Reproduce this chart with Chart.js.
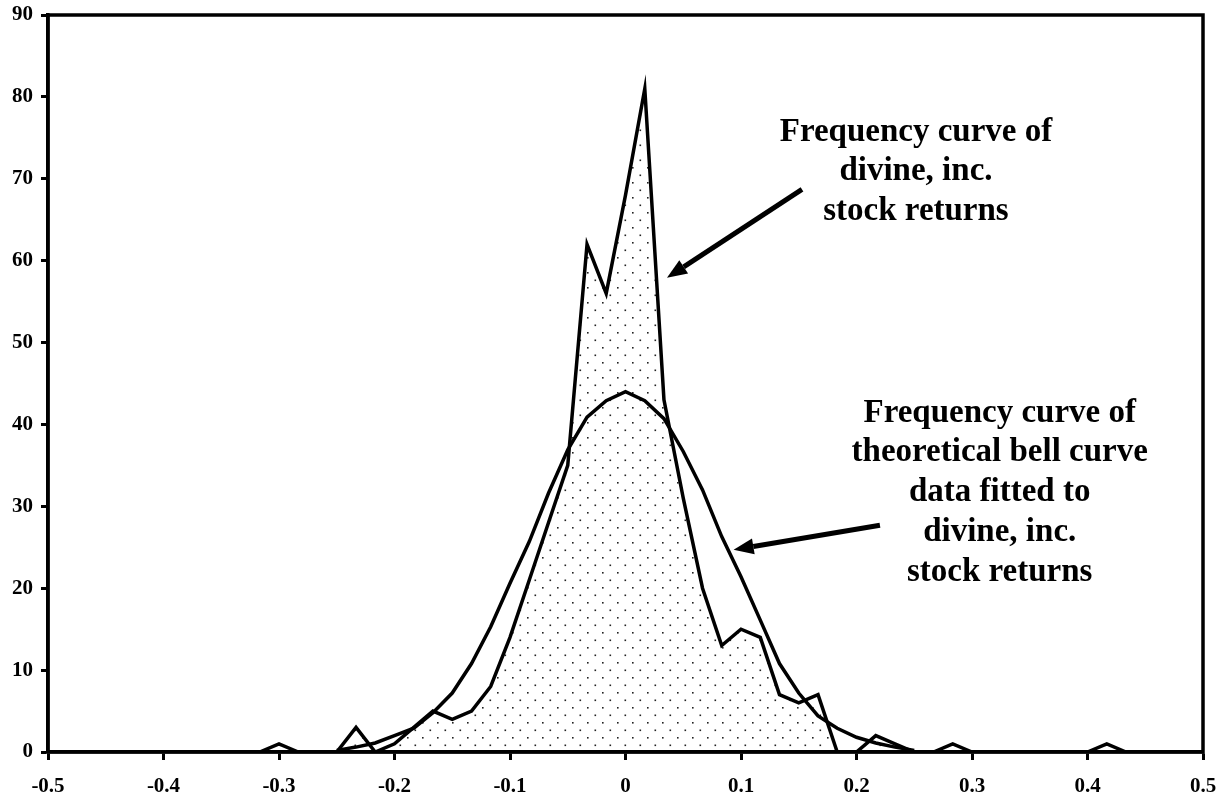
<!DOCTYPE html>
<html>
<head>
<meta charset="utf-8">
<script src="https://cdn.jsdelivr.net/npm/chart.js@4.4.1/dist/chart.umd.min.js"></script>
<style>
  html, body { margin: 0; padding: 0; background: #fff; }
  #wrap { width: 1226px; height: 797px; }
</style>
</head>
<body>
<div id="wrap"><canvas id="chart" width="1226" height="797"></canvas></div>
<script>
// bin centres (width 1/60)
const bins = [-0.5, -0.4833, -0.4667, -0.45, -0.4333, -0.4167, -0.4, -0.3833, -0.3667, -0.35,
  -0.3333, -0.3167, -0.3, -0.2833, -0.2667, -0.25, -0.2333, -0.2167, -0.2, -0.1833,
  -0.1667, -0.15, -0.1333, -0.1167, -0.1, -0.0833, -0.0667, -0.05, -0.0333, -0.0167,
  0, 0.0167, 0.0333, 0.05, 0.0667, 0.0833, 0.1, 0.1167, 0.1333, 0.15,
  0.1667, 0.1833, 0.2, 0.2167, 0.2333, 0.25, 0.2667, 0.2833, 0.3, 0.3167,
  0.3333, 0.35, 0.3667, 0.3833, 0.4, 0.4167, 0.4333, 0.45, 0.4667, 0.4833, 0.5];

// observed frequency of returns
const stockFreq = [0, 0, 0, 0, 0, 0, 0, 0, 0, 0,
  0, 0, 1, 0, 0, 0, 3, 0, 1, 3,
  5, 4, 5, 8, 14, 21, 28, 35, 62, 56,
  68, 81, 43, 31, 20, 13, 15, 14, 7, 6,
  7, 0, 0, 2, 1, 0, 0, 1, 0, 0,
  0, 0, 0, 0, 0, 1, 0, 0, 0, 0, 0];

// fitted bell curve
const bellFreq = [null, null, null, null, null, null, null, null, null, null,
  null, null, null, null, null, 0.2, 0.6, 1.1, 2.0, 2.9,
  4.8, 7.2, 10.8, 15.3, 20.6, 25.7, 31.6, 36.9, 40.9, 42.9,
  44, 42.9, 40.7, 36.7, 32.0, 26.3, 21.4, 16.1, 10.8, 7.2,
  4.4, 2.9, 1.8, 1.1, 0.6, 0.2, null, null, null, null,
  null, null, null, null, null, null, null, null, null, null, null];

const xTickLabels = ['-0.5', '-0.4', '-0.3', '-0.2', '-0.1', '0', '0.1', '0.2', '0.3', '0.4', '0.5'];
const yTickLabels = ['0', '10', '20', '30', '40', '50', '60', '70', '80', '90'];

const note1 = ['Frequency curve of', 'divine, inc.', 'stock returns'];
const note2 = ['Frequency curve of', 'theoretical bell curve', 'data fitted to', 'divine, inc.', 'stock returns'];

const FONT = '"Liberation Serif", "Times New Roman", serif';

// dotted fill
function dotPattern() {
  const c = document.createElement('canvas');
  c.width = 15; c.height = 15;
  const g = c.getContext('2d');
  g.fillStyle = '#222';
  g.fillRect(2, 2, 1.6, 1.6);
  g.fillRect(9.5, 9.5, 1.6, 1.6);
  return g.createPattern(c, 'repeat');
}

function arrow(ctx, x1, y1, x2, y2) {
  const a = Math.atan2(y2 - y1, x2 - x1);
  const len = 20, hw = 8;
  const bx = x2 - len * Math.cos(a), by = y2 - len * Math.sin(a);
  ctx.beginPath();
  ctx.moveTo(x1, y1);
  ctx.lineTo(bx, by);
  ctx.lineWidth = 5;
  ctx.strokeStyle = '#000';
  ctx.stroke();
  ctx.beginPath();
  ctx.moveTo(x2, y2);
  ctx.lineTo(bx + hw * Math.sin(a), by - hw * Math.cos(a));
  ctx.lineTo(bx - hw * Math.sin(a), by + hw * Math.cos(a));
  ctx.closePath();
  ctx.fillStyle = '#000';
  ctx.fill();
}

const extras = {
  id: 'extras',
  afterDraw(chart) {
    const { ctx, chartArea: a, scales: { x, y } } = chart;
    ctx.save();
    // box around plot
    ctx.lineWidth = 3.5;
    ctx.strokeStyle = '#000';
    ctx.strokeRect(a.left, a.top, a.right - a.left, a.bottom - a.top);

    ctx.font = 'bold 33px ' + FONT;
    ctx.fillStyle = '#000';
    ctx.textAlign = 'center';
    ctx.textBaseline = 'middle';
    note1.forEach((t, i) => ctx.fillText(t, x.getPixelForValue(0.2515), y.getPixelForValue(75.7 - i * 4.85)));
    note2.forEach((t, i) => ctx.fillText(t, x.getPixelForValue(0.324), y.getPixelForValue(41.4 - i * 4.88)));

    arrow(ctx, x.getPixelForValue(0.1528), y.getPixelForValue(68.7), x.getPixelForValue(0.0359), y.getPixelForValue(57.9));
    arrow(ctx, x.getPixelForValue(0.2203), y.getPixelForValue(27.7), x.getPixelForValue(0.0936), y.getPixelForValue(24.7));
    ctx.restore();
  }
};

new Chart(document.getElementById('chart').getContext('2d'), {
  type: 'line',
  data: {
    datasets: [
      {
        label: 'Theoretical bell curve',
        data: bins.map((b, i) => ({ x: b, y: bellFreq[i] })),
        borderColor: '#000',
        borderWidth: 3.5,
        pointRadius: 0,
        tension: 0,
        fill: false,
        spanGaps: false
      },
      {
        label: 'divine, inc. stock returns',
        data: bins.map((b, i) => ({ x: b, y: stockFreq[i] })),
        borderColor: '#000',
        borderWidth: 3.5,
        borderJoinStyle: 'miter',
        pointRadius: 0,
        tension: 0,
        fill: 'origin',
        backgroundColor: dotPattern()
      }
    ]
  },
  options: {
    responsive: false,
    animation: false,
    devicePixelRatio: 1,
    layout: { padding: { left: 0, right: 23, top: 15, bottom: 0 } },
    plugins: { legend: { display: false }, tooltip: { enabled: false } },
    scales: {
      x: {
        type: 'linear',
        min: -0.5,
        max: 0.5,
        afterFit(s) { s.height = 45; s.paddingLeft = 0; s.paddingRight = 0; },
        afterBuildTicks(s) { s.ticks = xTickLabels.map(v => ({ value: Number(v) })); },
        ticks: {
          autoSkip: false,
          maxRotation: 0,
          padding: 14,
          color: '#000',
          font: { family: FONT, size: 21, weight: 'bold' },
          callback: (v, i) => xTickLabels[i]
        },
        grid: { drawOnChartArea: false, drawTicks: true, tickLength: 8, tickWidth: 3, tickColor: '#000' },
        border: { display: true, color: '#000', width: 3.5 }
      },
      y: {
        min: 0,
        max: 90,
        afterFit(s) { s.width = 48; s.paddingTop = 0; s.paddingBottom = 0; },
        afterBuildTicks(s) { s.ticks = yTickLabels.map(v => ({ value: Number(v) })); },
        ticks: {
          padding: 8,
          color: '#000',
          font: { family: FONT, size: 21, weight: 'bold' },
          callback: (v, i) => yTickLabels[i]
        },
        grid: { drawOnChartArea: false, drawTicks: true, tickLength: 7, tickWidth: 3, tickColor: '#000' },
        border: { display: true, color: '#000', width: 3.5 }
      }
    }
  },
  plugins: [extras]
});
</script>
</body>
</html>
